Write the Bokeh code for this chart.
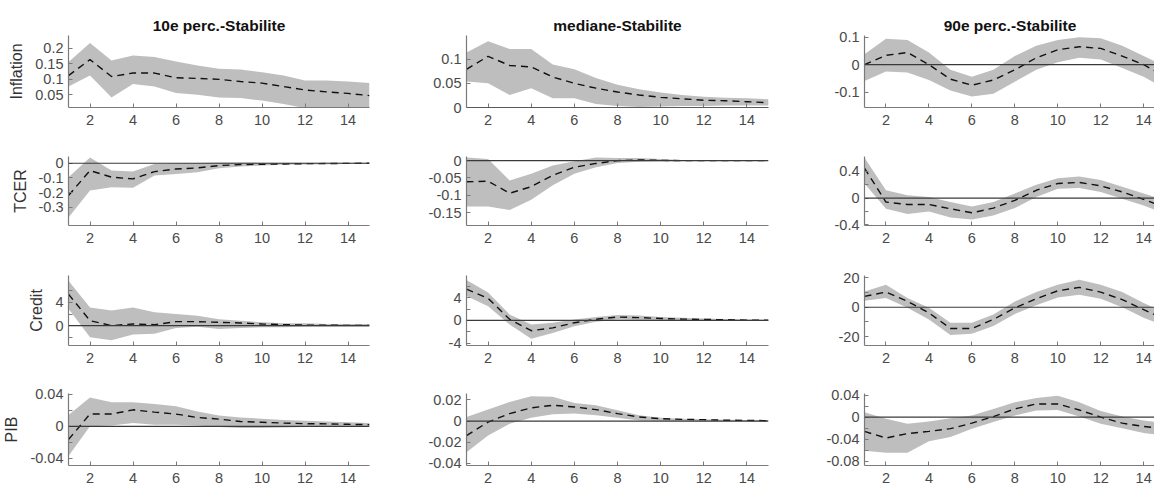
from bokeh.plotting import figure
from bokeh.layouts import gridplot
from bokeh.models import FixedTicker, Span, Range1d
from bokeh.embed import file_html
from bokeh.resources import INLINE

horizons = list(range(1, 16))
x_ticks = [2, 4, 6, 8, 10, 12, 14]
col_titles = ["10e perc.-Stabilite", "mediane-Stabilite", "90e perc.-Stabilite"]
row_labels = ["Inflation", "TCER", "Credit", "PIB"]

# ---- Inflation ----
infl_p10_med = [0.112, 0.163, 0.109, 0.12, 0.12, 0.105, 0.103, 0.10, 0.093, 0.088, 0.077, 0.066, 0.06, 0.055, 0.048]
infl_p10_up = [0.155, 0.216, 0.16, 0.176, 0.171, 0.157, 0.144, 0.134, 0.131, 0.123, 0.112, 0.096, 0.096, 0.093, 0.088]
infl_p10_low = [0.077, 0.112, 0.042, 0.085, 0.077, 0.056, 0.051, 0.042, 0.04, 0.032, 0.021, 0.008, 0.006, 0.005, 0.004]
infl_med_med = [0.079, 0.106, 0.087, 0.084, 0.063, 0.05, 0.04, 0.032, 0.026, 0.021, 0.018, 0.015, 0.014, 0.012, 0.01]
infl_med_up = [0.114, 0.137, 0.121, 0.121, 0.089, 0.079, 0.061, 0.047, 0.038, 0.031, 0.026, 0.022, 0.02, 0.019, 0.017]
infl_med_low = [0.054, 0.05, 0.026, 0.04, 0.019, 0.019, 0.007, 0.003, 0.001, 0.002, 0.003, 0.003, 0.004, 0.004, 0.004]
infl_p90_med = [0.0, 0.034, 0.044, 0.0, -0.053, -0.075, -0.056, -0.019, 0.025, 0.054, 0.065, 0.059, 0.031, 0.0, -0.044]
infl_p90_up = [0.038, 0.094, 0.09, 0.044, -0.019, -0.044, -0.019, 0.031, 0.069, 0.09, 0.1, 0.096, 0.069, 0.031, -0.006]
infl_p90_low = [-0.06, -0.025, -0.029, -0.056, -0.094, -0.116, -0.106, -0.062, -0.019, 0.009, 0.025, 0.019, -0.012, -0.044, -0.088]

# ---- TCER ----
tcer_p10_med = [-0.22, -0.05, -0.095, -0.107, -0.057, -0.039, -0.032, -0.016, -0.009, -0.007, -0.005, -0.003, -0.002, -0.001, 0.0]
tcer_p10_up = [-0.095, 0.04, -0.05, -0.057, -0.005, 0.0, 0.002, 0.005, 0.005, 0.004, 0.004, 0.003, 0.003, 0.003, 0.003]
tcer_p10_low = [-0.37, -0.186, -0.164, -0.168, -0.084, -0.073, -0.061, -0.034, -0.023, -0.016, -0.011, -0.009, -0.007, -0.006, -0.005]
tcer_med_med = [-0.061, -0.059, -0.094, -0.075, -0.042, -0.019, -0.008, 0.0, 0.002, 0.001, 0.0, 0.0, 0.0, 0.0, 0.0]
tcer_med_up = [0.009, 0.005, -0.057, -0.038, -0.014, -0.002, 0.009, 0.008, 0.008, 0.005, 0.002, 0.001, 0.001, 0.001, 0.001]
tcer_med_low = [-0.132, -0.132, -0.142, -0.113, -0.071, -0.038, -0.019, -0.007, -0.003, -0.002, -0.001, -0.001, -0.001, -0.001, -0.001]
tcer_p90_med = [0.446, -0.06, -0.096, -0.096, -0.16, -0.22, -0.15, -0.035, 0.116, 0.218, 0.233, 0.182, 0.091, -0.02, -0.137]
tcer_p90_up = [0.6, 0.116, 0.04, 0.015, -0.06, -0.127, -0.06, 0.066, 0.2, 0.294, 0.32, 0.268, 0.167, 0.066, -0.035]
tcer_p90_low = [0.218, -0.16, -0.238, -0.2, -0.29, -0.32, -0.26, -0.15, 0.015, 0.14, 0.15, 0.09, -0.01, -0.11, -0.238]

# ---- Credit ----
credit_p10_med = [5.4, 0.86, 0.0, 0.29, 0.17, 0.69, 0.69, 0.57, 0.46, 0.29, 0.17, 0.1, 0.08, 0.05, 0.05]
credit_p10_up = [7.7, 3.1, 2.6, 3.1, 2.3, 2.0, 1.7, 1.1, 0.86, 0.57, 0.4, 0.4, 0.3, 0.3, 0.29]
credit_p10_low = [2.9, -2.0, -2.5, -1.5, -1.4, -0.4, -0.17, -0.57, -0.4, -0.29, -0.25, -0.2, -0.2, -0.2, -0.2]
credit_med_med = [5.5, 3.9, 0.2, -1.8, -1.3, -0.4, 0.2, 0.6, 0.5, 0.35, 0.24, 0.18, 0.12, 0.06, 0.05]
credit_med_up = [7.1, 4.9, 1.06, -0.7, -0.4, 0.18, 0.6, 0.94, 0.88, 0.6, 0.47, 0.35, 0.24, 0.18, 0.12]
credit_med_low = [4.3, 2.5, -0.7, -3.2, -2.2, -1.0, -0.24, 0.18, 0.06, 0.0, -0.06, -0.06, -0.06, -0.06, -0.06]
credit_p90_med = [7.4, 10.3, 4.0, -3.8, -14.4, -14.4, -8.3, -0.4, 5.8, 11.2, 13.5, 10.3, 5.2, -1.6, -8.3]
credit_p90_up = [10.8, 15.3, 6.3, -0.4, -10.6, -10.6, -4.9, 4.0, 10.3, 15.3, 18.7, 15.3, 10.3, 2.9, -3.8]
credit_p90_low = [4.5, 6.3, -0.4, -8.3, -18.9, -18.0, -12.8, -4.5, 1.3, 6.7, 8.5, 5.8, 0.0, -7.2, -12.8]

# ---- PIB ----
pib_p10_med = [-0.0165, 0.0153, 0.0153, 0.0206, 0.0177, 0.0153, 0.011, 0.009, 0.006, 0.005, 0.004, 0.0033, 0.003, 0.0025, 0.002]
pib_p10_up = [0.014, 0.036, 0.03, 0.03, 0.028, 0.025, 0.0186, 0.0136, 0.011, 0.0095, 0.008, 0.007, 0.006, 0.005, 0.004]
pib_p10_low = [-0.037, 0.0, 0.001, 0.004, 0.002, 0.002, 0.001, -0.001, -0.002, -0.002, -0.0015, -0.001, -0.001, -0.0005, -0.0005]
pib_med_med = [-0.0137, -0.001, 0.007, 0.0124, 0.0149, 0.0133, 0.0108, 0.007, 0.0038, 0.0022, 0.0016, 0.0013, 0.0008, 0.0006, 0.0003]
pib_med_up = [0.0038, 0.0108, 0.018, 0.0235, 0.0229, 0.0171, 0.0149, 0.0102, 0.0054, 0.0032, 0.0022, 0.0016, 0.0013, 0.001, 0.001]
pib_med_low = [-0.0295, -0.0137, -0.0025, 0.0032, 0.0063, 0.007, 0.0054, 0.0032, 0.0006, 0.0, -0.0002, -0.0002, -0.0002, -0.0002, -0.0002]
pib_p90_med = [-0.026, -0.038, -0.03, -0.026, -0.021, -0.011, 0.001, 0.015, 0.024, 0.024, 0.013, 0.0, -0.011, -0.017, -0.021]
pib_p90_up = [0.009, -0.003, -0.012, -0.008, -0.002, 0.003, 0.015, 0.027, 0.035, 0.039, 0.027, 0.011, 0.001, -0.006, -0.011]
pib_p90_low = [-0.061, -0.065, -0.065, -0.044, -0.036, -0.021, -0.009, 0.003, 0.012, 0.013, 0.001, -0.012, -0.02, -0.029, -0.033]

# y-axis limits and tick labels per panel
y_limits = [
    [(0.01, 0.24), (0.0, 0.149), (-0.156, 0.106)],
    [(-0.425, 0.046), (-0.187, 0.012), (-0.41, 0.62)],
    [(-3.4, 8.6), (-4.4, 7.9), (-26.0, 21.6)],
    [(-0.049, 0.041), (-0.042, 0.026), (-0.088, 0.043)],
]
y_tick_labels = [
    [[0.05, 0.1, 0.15, 0.2], [0, 0.05, 0.1], [-0.1, 0, 0.1]],
    [[-0.3, -0.2, -0.1, 0], [-0.15, -0.1, -0.05, 0], [-0.4, 0, 0.4]],
    [[0, 4], [-4, 0, 4], [-20, 0, 20]],
    [[-0.04, 0, 0.04], [-0.04, -0.02, 0, 0.02], [-0.08, -0.04, 0, 0.04]],
]
y_unlabeled = [
    [[], [], []],
    [[], [], [-0.2, 0.2]],
    [[-2, 2, 6], [-2, 2, 6], [-10, 10]],
    [[-0.02, 0.02], [], [-0.06, -0.02, 0.02]],
]

series = [
    [(infl_p10_med, infl_p10_low, infl_p10_up), (infl_med_med, infl_med_low, infl_med_up), (infl_p90_med, infl_p90_low, infl_p90_up)],
    [(tcer_p10_med, tcer_p10_low, tcer_p10_up), (tcer_med_med, tcer_med_low, tcer_med_up), (tcer_p90_med, tcer_p90_low, tcer_p90_up)],
    [(credit_p10_med, credit_p10_low, credit_p10_up), (credit_med_med, credit_med_low, credit_med_up), (credit_p90_med, credit_p90_low, credit_p90_up)],
    [(pib_p10_med, pib_p10_low, pib_p10_up), (pib_med_med, pib_med_low, pib_med_up), (pib_p90_med, pib_p90_low, pib_p90_up)],
]

# layout (pixels)
left_b = [67, 49, 48]
frame_w = [301, 302, 291]
right_b = [48, 48, 0]
x_end = [15, 15, 14.55]
top_b = [35, 26, 25, 25]
frame_h = [72, 69, 70, 72]
bottom_b = [23, 25, 23, 22]

FONT = "Liberation Sans"
AXIS_COL = "#7a7a7a"
LABEL_COL = "#4a4a4a"

rows = []
for r in range(4):
    row = []
    for c in range(3):
        med, low, up = series[r][c]
        p = figure(frame_width=frame_w[c], frame_height=frame_h[r],
                   min_border_left=left_b[c], min_border_right=right_b[c],
                   min_border_top=top_b[r], min_border_bottom=bottom_b[r],
                   x_range=Range1d(1, x_end[c]), y_range=Range1d(*y_limits[r][c]),
                   output_backend="svg", toolbar_location=None,
                   title=col_titles[c] if r == 0 else None)
        p.varea(x=horizons, y1=low, y2=up, fill_color="#bebebe", fill_alpha=1.0)
        p.add_layout(Span(location=0, dimension="width", line_color="#3a3a3a", line_width=1.2))
        p.line(horizons, med, line_color="#111111", line_width=1.4, line_dash="7 5")

        p.outline_line_color = None
        p.xgrid.visible = False
        p.ygrid.visible = False
        p.background_fill_color = "white"
        p.border_fill_color = "white"

        p.xaxis.ticker = FixedTicker(ticks=x_ticks)
        yt = y_tick_labels[r][c]
        p.yaxis.ticker = FixedTicker(ticks=yt, minor_ticks=y_unlabeled[r][c])
        p.yaxis.major_label_overrides = {float(v): f"{v:g}" for v in yt}

        for ax in (p.xaxis[0], p.yaxis[0]):
            ax.axis_line_color = AXIS_COL
            ax.axis_line_width = 1.2
            ax.major_tick_line_color = AXIS_COL
            ax.minor_tick_line_color = AXIS_COL
            ax.major_tick_in = 4
            ax.major_tick_out = 0
            ax.minor_tick_in = 4
            ax.minor_tick_out = 0
            ax.major_label_text_font = FONT
            ax.major_label_text_font_size = "14.5px"
            ax.major_label_text_color = LABEL_COL
        p.xaxis.minor_tick_line_color = None
        p.xaxis.major_label_standoff = 7
        p.yaxis.major_label_standoff = 5

        if c == 0:
            p.yaxis.axis_label = row_labels[r]
            p.yaxis.axis_label_text_font = FONT
            p.yaxis.axis_label_text_font_size = "16px"
            p.yaxis.axis_label_text_font_style = "normal"
            p.yaxis.axis_label_text_color = "#333333"
            p.yaxis.axis_label_standoff = 7

        if r == 0:
            p.title.text_font = FONT
            p.title.text_font_size = "15.5px"
            p.title.text_font_style = "bold"
            p.title.align = "center"
            p.title.text_color = "#111111"
            p.title.standoff = 3
        row.append(p)
    rows.append(row)

grid = gridplot(rows, toolbar_location=None)
open("out.html", "w").write(file_html(grid, INLINE))
